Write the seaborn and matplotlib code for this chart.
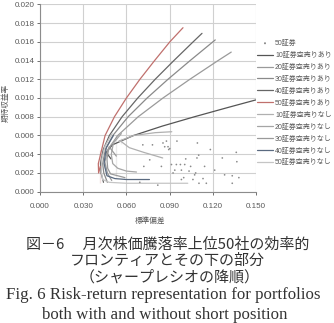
import matplotlib
matplotlib.use("Agg")
import matplotlib.pyplot as plt
import seaborn as sns
import pandas as pd

sns.set_theme(style="white")
plt.rcParams['font.family'] = ['Liberation Sans', 'Noto Sans CJK JP']

# ---- data (standard deviation, expected return) ----
scatter_sd = [.0781, .0854, .0878, .0866, .0894, .0951, .1093, .1183, .1102, .1090,
              .1266, .1363, .1367, .0913, .0947, .0975, .1012, .1005, .1046, .0936,
              .0982, .1035, .1081, .1074, .0998, .1062, .1104, .1155, .1132, .1335,
              .1381, .1335, .0843, .0721, .0901, .0889, .0924, .0982, .0714, .0762,
              .0693, .0818, .1213, .1143, .1282]
scatter_r = [.0050, .0052, .0054, .0048, .0045, .0054, .0052, .0045, .0039, .0036,
             .0036, .0042, .0032, .0029, .0029, .0029, .0035, .0029, .0027, .0023,
             .0023, .0022, .0020, .0018, .0015, .0013, .0009, .0009, .0014, .0017,
             .0015, .0009, .0027, .0027, .0046, .0048, .0020, .0013, .0050, .0034,
             .0010, .0007, .0023, .0027, .0018]

# with short selling (空売りあり)
a10_sd = [.0493, .0460, .0503, .0650, .0849, .1073, .1308, .1500]
a10_r = [.0035, .0042, .0050, .0060, .0070, .0080, .0090, .0098]
a20_sd = [.0498, .0468, .0450, .0471, .0540, .0682, .0854, .1041, .1237, .1328]
a20_r = [.0012, .0020, .0032, .0045, .0060, .0080, .0100, .0120, .0140, .0149]
a30_sd = [.0468, .0443, .0435, .0454, .0506, .0612, .0744, .0889, .1043, .1217]
a30_r = [.0010, .0020, .0030, .0045, .0060, .0080, .0100, .0120, .0140, .0162]
a40_sd = [.0441, .0424, .0420, .0439, .0482, .0570, .0679, .0800, .0930, .1064, .1125]
a40_r = [.0010, .0020, .0030, .0045, .0060, .0080, .0100, .0120, .0140, .0160, .0169]
a50_sd = [.0419, .0407, .0405, .0419, .0452, .0517, .0600, .0694, .0796, .0902, .0993]
a50_r = [.0009, .0020, .0030, .0045, .0060, .0080, .0100, .0120, .0140, .0160, .0175]

# without short selling (空売りなし)
n10_sd = [.0852, .0720, .0620, .0560, .0548, .0560, .0650, .0800, .0915]
n10_r = [.0036, .0042, .0047, .0051, .0054, .0057, .0060, .0063, .0064]
n20_sd = [.0565, .0510, .0495, .0505, .0540, .0600, .0670]
n20_r = [.0062, .0052, .0040, .0030, .0025, .0022, .0021]
n30_sd = [.0530, .0480, .0465, .0470, .0490, .0530, .0590]
n30_r = [.0060, .0048, .0035, .0025, .0019, .0016, .0015]
n40_sd = [.0510, .0460, .0445, .0445, .0465, .0520, .0600, .0680, .0760]
n40_r = [.0060, .0047, .0035, .0025, .0017, .0014, .0013, .0013, .0013]
n50_sd = [.0500, .0450, .0430, .0425, .0435, .0480, .0600, .0800, .1026]
n50_r = [.0062, .0048, .0035, .0022, .0013, .0010, .0009, .0009, .0009]

scatter_label = "50証券"
line_labels = ["10証券空売りあり", "20証券空売りあり", "30証券空売りあり", "40証券空売りあり",
               "50証券空売りあり", "10証券空売りなし", "20証券空売りなし", "30証券空売りなし",
               "40証券空売りなし", "50証券空売りなし"]
line_sd = [a10_sd, a20_sd, a30_sd, a40_sd, a50_sd, n10_sd, n20_sd, n30_sd, n40_sd, n50_sd]
line_r = [a10_r, a20_r, a30_r, a40_r, a50_r, n10_r, n20_r, n30_r, n40_r, n50_r]
line_colors = ["#555555", "#9a9a9a", "#8a8a8a", "#666666", "#c0706d",
               "#b0b0b0", "#a5a5a5", "#9a9a9a", "#5a6a80", "#c5c5c5"]

x_ticks = [0.000, 0.030, 0.060, 0.090, 0.120, 0.150]
y_ticks = [0.000, 0.002, 0.004, 0.006, 0.008, 0.010, 0.012, 0.014, 0.016, 0.018, 0.020]

# ---- figure ----
fig = plt.figure(figsize=(3.34, 3.23), dpi=100)
ax = fig.add_axes([40/334, 1-191.7/323, 216/334, 187.4/323])

sns.scatterplot(x=scatter_sd, y=scatter_r, ax=ax, s=1.5, color="#8a8a8a",
                edgecolor="none", label=scatter_label, zorder=3)
for sd, r, lab, col in zip(line_sd, line_r, line_labels, line_colors):
    df = pd.DataFrame({"sd": sd, "r": r})
    sns.lineplot(data=df, x="sd", y="r", sort=False, ax=ax, color=col,
                 linewidth=0.6, label=lab, zorder=2)

ax.set_xlim(0, 0.150)
ax.set_ylim(0, 0.020)
ax.set_xticks(x_ticks)
ax.set_yticks(y_ticks)
ax.set_xticklabels([f"{v:.3f}" for v in x_ticks])
ax.set_yticklabels([f"{v:.3f}" for v in y_ticks])
ax.grid(True, color="#d0d0d0", linewidth=0.8)
ax.set_axisbelow(True)
for s in ["top", "right"]:
    ax.spines[s].set_visible(False)
for s in ["left", "bottom"]:
    ax.spines[s].set_color("#8c8c8c")
    ax.spines[s].set_linewidth(0.8)
ax.tick_params(axis="both", labelsize=5.8, colors="#595959", length=2, width=0.6,
               pad=2, direction="out", left=True, bottom=True)
ax.tick_params(axis="x", pad=6)

ax.set_xlabel("標準偏差", fontsize=5.5, color="#595959")
ax.set_ylabel("期待収益率", fontsize=5.5, color="#595959")
ax.xaxis.set_label_coords((150-40)/216, -(217-191.7)/187.4)
ax.yaxis.set_label_coords(-(40-10)/216, (191.7-103)/187.4)

handles, labels = ax.get_legend_handles_labels()
if ax.legend_:
    ax.legend_.remove()
for h in handles[1:]:
    h.set_linewidth(0.9)
leg = fig.legend(handles, labels, loc="upper left", bbox_to_anchor=(257/334, 1-40/323),
                 frameon=False, fontsize=5.0, handlelength=2.3, handletextpad=0.3,
                 labelspacing=0.7, borderaxespad=0, borderpad=0, markerscale=1.2)
for t in leg.get_texts():
    t.set_color("#595959")

# ---- caption ----
cap_jp = ['Noto Sans CJK JP', 'DejaVu Sans']
fig.text(168/334, 1-245/323, "図－6　 月次株価騰落率上位50社の効率的", ha="center", va="center",
         fontsize=10.8, family=cap_jp, color="#333333")
fig.text(167/334, 1-261/323, "フロンティアとその下の部分", ha="center", va="center",
         fontsize=10.8, family=cap_jp, color="#333333")
fig.text(170/334, 1-277/323, "（シャープレシオの降順）", ha="center", va="center",
         fontsize=10.8, family=cap_jp, color="#333333")
fig.text(163/334, 1-295/323, "Fig. 6 Risk-return representation for portfolios", ha="center",
         va="center", fontsize=12.2, family=['Liberation Serif'], color="#333333")
fig.text(165/334, 1-315/323, "both with and without short position", ha="center",
         va="center", fontsize=12.2, family=['Liberation Serif'], color="#333333")

fig.savefig("out.png", dpi=100)
